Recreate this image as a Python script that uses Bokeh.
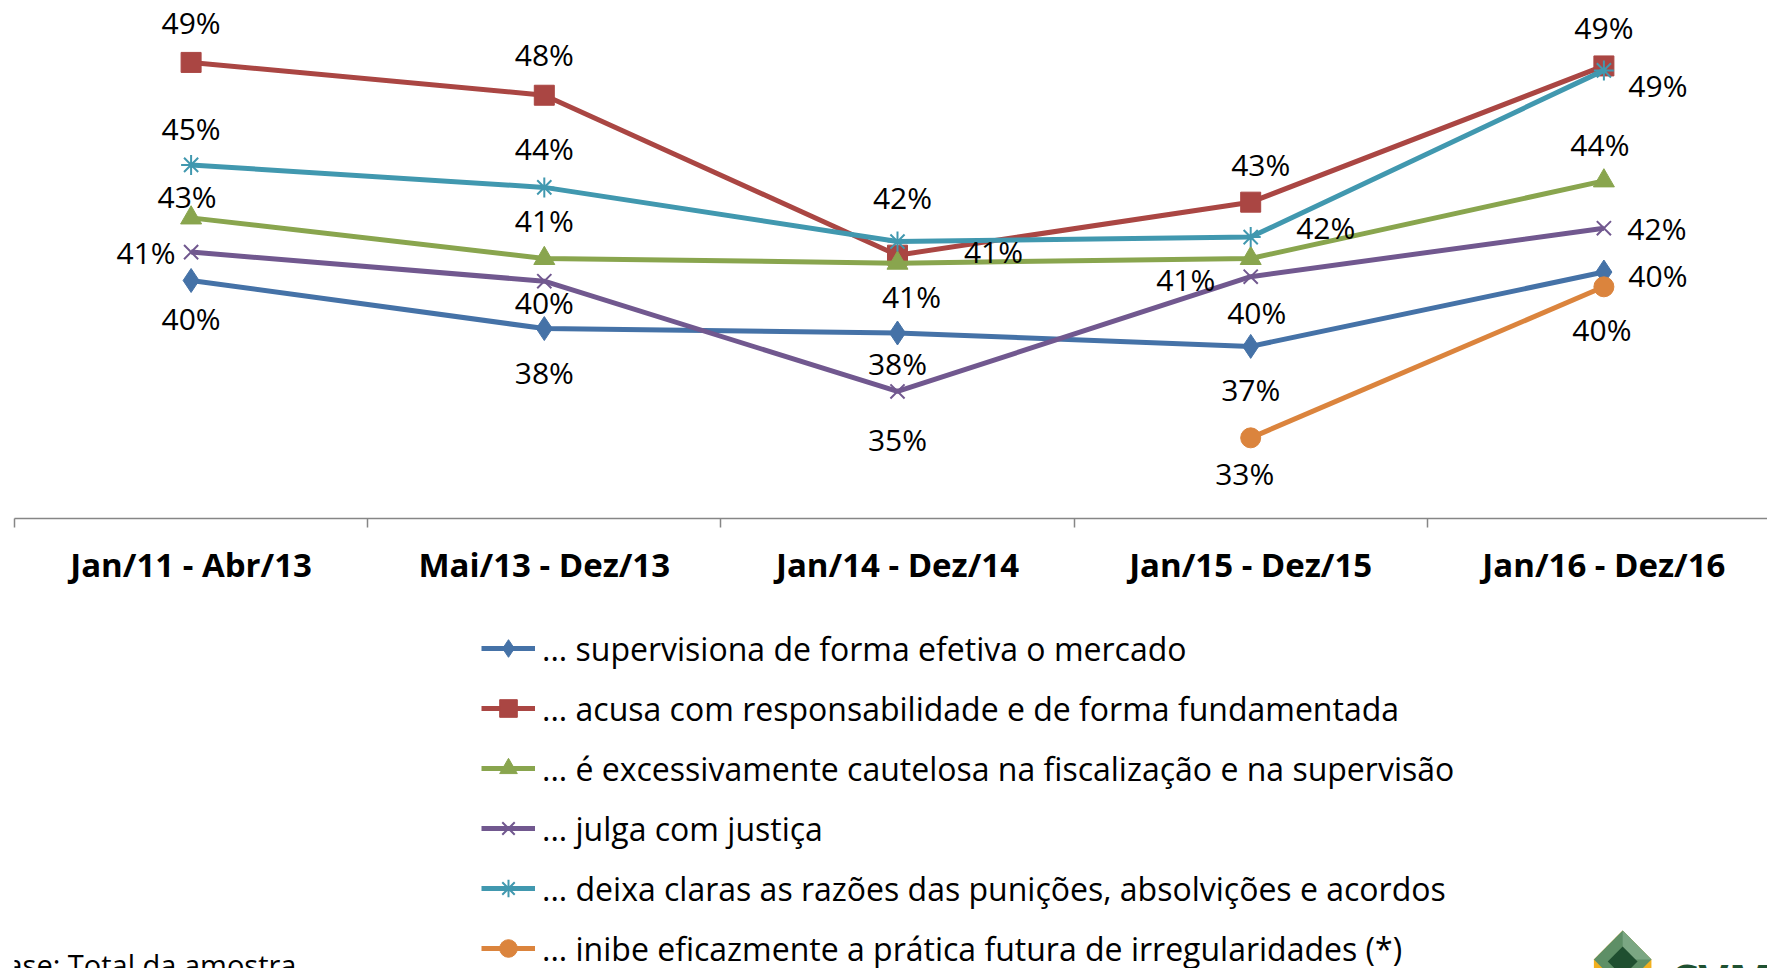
from bokeh.plotting import figure
from bokeh.layouts import column
from bokeh.models import (Range1d, FixedTicker, Legend, LegendItem, ColumnDataSource,
                          Label, PolyAnnotation)
from bokeh.core.properties import value
from bokeh.embed import file_html
from bokeh.resources import INLINE

NaN = float("nan")

# ---------------- data ----------------
periods = ["Jan/11 - Abr/13", "Mai/13 - Dez/13", "Jan/14 - Dez/14",
           "Jan/15 - Dez/15", "Jan/16 - Dez/16"]
supervisiona = [39.84, 37.79, 37.6, 37.03, 40.2]
acusa = [49.14, 47.74, 40.92, 43.18, 48.99]
cautelosa = [42.51, 40.78, 40.58, 40.78, 44.09]
julga = [41.05, 39.81, 35.11, 40.0, 42.07]
deixa = [44.77, 43.81, 41.5, 41.69, 48.8]
inibe = [NaN, NaN, NaN, 33.13, 39.57]

series_names = [
    "... supervisiona de forma efetiva o mercado",
    "... acusa com responsabilidade e de forma fundamentada",
    "... é excessivamente cautelosa na fiscalização e na supervisão",
    "... julga com justiça",
    "... deixa claras as razões das punições, absolvições e acordos",
    "... inibe eficazmente a prática futura de irregularidades (*)",
]
footer_text = "Base: Total da amostra"
logo_text = "CVM"

# ---------------- styles / layout ----------------
series_values = [supervisiona, acusa, cautelosa, julga, deixa, inibe]
colors = ["#4572A7", "#AA4643", "#89A54E", "#71588F", "#4198AF", "#DB843D"]
markers = ["diamond", "square", "triangle", "x", "asterisk", "circle"]
marker_sizes = [24, 20, 21, 20, 20, 20]
marker_lw = [1, 1, 1, 2, 2, 1]

# label placement offsets (screen px, +dy = downwards)
label_offsets = [
    [(0, 38), (0, 44), (0, 30), (0, 43), (54, 3)],
    [(0, -40), (0, -41), (96, -4), (10, -38), (0, -38)],
    [(-4, -21), (0, -38), (14, 33), (-65, 21), (-4, -36)],
    [(-45, 0), (0, 21), (0, 48), (6, 36), (53, 0)],
    [(0, -36), (0, -39), (5, -44), (75, -10), (54, 15)],
    [None, None, None, (-6, 36), (-2, 43)],
]

W = 1767
H_TOP = 600
H_BOT = 368
FONT = "Open Sans"

xs = list(range(len(periods)))

p = figure(width=W, height=H_TOP, output_backend="svg", toolbar_location=None,
           x_range=Range1d(-0.5, 4.4632), y_range=Range1d(29.69, 51.78),
           y_axis_location=None, min_border_left=14, min_border_right=0,
           min_border_top=0, min_border_bottom=H_TOP - 518)
p.outline_line_color = None
p.grid.visible = False
p.background_fill_color = "white"
p.border_fill_color = "white"

# x axis
ax = p.xaxis[0]
ax.ticker = FixedTicker(ticks=xs, minor_ticks=[i - 0.5 for i in range(len(periods) + 1)])
ax.major_label_overrides = {i: periods[i] for i in xs}
ax.major_tick_line_color = None
ax.major_tick_in = 0
ax.major_tick_out = 0
ax.minor_tick_in = 0
ax.minor_tick_out = 9
ax.minor_tick_line_color = "#868686"
ax.minor_tick_line_width = 1.5
ax.axis_line_color = "#868686"
ax.axis_line_width = 1.5
ax.major_label_text_font = FONT
ax.major_label_text_font_style = "bold"
ax.major_label_text_font_size = "33px"
ax.major_label_text_color = "black"
ax.major_label_standoff = 14

lab_x, lab_y, lab_t, lab_dx, lab_dy = [], [], [], [], []
for k, vals in enumerate(series_values):
    p.line(xs, vals, line_color=colors[k], line_width=5)
    p.scatter(xs, vals, marker=markers[k], size=marker_sizes[k],
              fill_color=colors[k], line_color=colors[k], line_width=marker_lw[k])
    for i, v in enumerate(vals):
        if v != v:
            continue
        dx, dy = label_offsets[k][i]
        lab_x.append(xs[i]); lab_y.append(v)
        lab_t.append(f"{int(v + 0.5)}%")
        lab_dx.append(dx); lab_dy.append(dy)

src = ColumnDataSource(dict(x=lab_x, y=lab_y, text=lab_t, dx=lab_dx, dy=lab_dy))
p.text(x="x", y="y", text="text", x_offset="dx", y_offset="dy", source=src,
       text_font=value(FONT), text_font_size="30px", text_color="black",
       text_align="center", text_baseline="middle")

# ---------------- bottom panel: legend + footer ----------------
q = figure(width=W, height=H_BOT, output_backend="svg", toolbar_location=None,
           x_range=Range1d(0, W), y_range=Range1d(H_TOP + H_BOT, H_TOP),
           x_axis_location=None, y_axis_location=None,
           min_border_left=0, min_border_right=0, min_border_top=0, min_border_bottom=0)
q.outline_line_color = None
q.grid.visible = False
q.background_fill_color = "white"
q.border_fill_color = "white"

# legend proxies (placed outside the visible range, only their legend glyphs show)
items = []
for k in range(len(series_values)):
    lr = q.line([-500, -400], [0, 0], line_color=colors[k], line_width=5)
    sr = q.scatter([-500], [0], marker=markers[k], size=marker_sizes[k],
                   fill_color=colors[k], line_color=colors[k], line_width=marker_lw[k])
    items.append(LegendItem(label=series_names[k], renderers=[lr, sr]))

legend = Legend(items=items, location=(467, -2), orientation="vertical",
                border_line_color=None, background_fill_alpha=0, padding=0, margin=0,
                spacing=16, label_height=44, glyph_height=44, glyph_width=54,
                label_standoff=7, label_text_font=FONT, label_text_font_size="32px",
                label_text_color="black")
q.add_layout(legend, "center")

q.add_layout(Label(x=-27, y=964, text=footer_text, text_font=FONT,
                   text_font_size="29px", text_color="black",
                   text_align="left", text_baseline="middle"))

# logo (decoration)
q.add_layout(PolyAnnotation(xs=[1621, 1650, 1650, 1592, 1592], ys=[930, 959, 975, 975, 959],
                            fill_color="#F2B01E", fill_alpha=1, line_color=None))
q.add_layout(PolyAnnotation(xs=[1621, 1650, 1621, 1592], ys=[930, 959, 988, 959],
                            fill_color="#5E8F66", fill_alpha=1, line_color=None))
q.add_layout(PolyAnnotation(xs=[1621, 1650, 1621], ys=[930, 959, 959],
                            fill_color="#7BA783", fill_alpha=1, line_color=None))
q.add_layout(PolyAnnotation(xs=[1621, 1636, 1621, 1606], ys=[946, 961, 976, 961],
                            fill_color="#1F4F30", fill_alpha=1, line_color=None))
q.add_layout(Label(x=1668, y=979, text=logo_text, text_font=FONT, text_font_style="bold",
                   text_font_size="46px", text_color="#1F5131",
                   text_align="left", text_baseline="middle"))

layout = column(p, q, spacing=0)
open("out.html", "w").write(file_html(layout, INLINE))
